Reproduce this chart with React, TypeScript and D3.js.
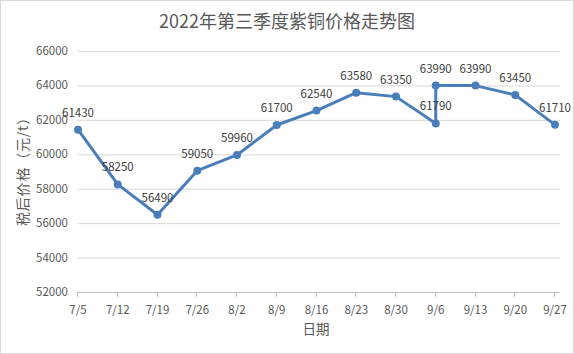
import React from 'react';
import * as d3 from 'd3';

const categories = ['7/5', '7/12', '7/19', '7/26', '8/2', '8/9', '8/16', '8/23', '8/30', '9/6', '9/13', '9/20', '9/27'];
// 9/6 has two readings, so the series repeats that date
const pointDates = ['7/5', '7/12', '7/19', '7/26', '8/2', '8/9', '8/16', '8/23', '8/30', '9/6', '9/6', '9/13', '9/20', '9/27'];
const prices = [61430, 58250, 56490, 59050, 59960, 61700, 62540, 63580, 63350, 61790, 63990, 63990, 63450, 61710];
const yTicks = [52000, 54000, 56000, 58000, 60000, 62000, 64000, 66000];

const W = 574;
const H = 354;
const FONT = '"Noto Sans CJK SC", "Noto Sans", sans-serif';
const TXT = '#595959';
const BLUE = '#4a7ebb';

export default function App() {
  const x = d3.scalePoint<string>().domain(categories).range([78, 555]);
  const y = d3.scaleLinear().domain([52000, 66000]).range([292, 51]);

  const pts = pointDates.map((d, i) => ({ d, v: prices[i] }));
  const line = d3.line<{ d: string; v: number }>()
    .x(p => x(p.d) as number)
    .y(p => y(p.v));

  return (
    <svg width={W} height={H} style={{ position: 'absolute', left: 0, top: 0, background: '#fff' }} fontFamily={FONT}>
      <rect x={0.5} y={0.5} width={W - 1} height={H - 1} fill="#fff" stroke="#d9d9d9" />
      <text x={287} y={28} textAnchor="middle" fontSize={18} fill={TXT}>2022年第三季度紫铜价格走势图</text>

      {yTicks.map(t => (
        <g key={t}>
          {t !== 52000 && <line x1={77} x2={560} y1={y(t) + 0.5} y2={y(t) + 0.5} stroke="#d9d9d9" />}
          <text x={68} y={y(t)} dy="0.35em" textAnchor="end" fontSize={11.5} fill={TXT}>{t}</text>
        </g>
      ))}

      {/* x axis */}
      <line x1={77} x2={560} y1={y(52000) + 0.5} y2={y(52000) + 0.5} stroke="#bfbfbf" />
      {categories.map(c => (
        <g key={c}>
          <line x1={Math.round(x(c) as number) - 0.5} x2={Math.round(x(c) as number) - 0.5} y1={292} y2={297} stroke="#bfbfbf" />
          <text x={x(c) as number} y={310} dy="0.35em" textAnchor="middle" fontSize={11.5} fill={TXT}>{c}</text>
        </g>
      ))}

      <text x={316} y={329} dy="0.35em" textAnchor="middle" fontSize={13.5} fill={TXT}>日期</text>
      <text transform="translate(23,168) rotate(-90)" textAnchor="middle" dy="0.35em" fontSize={14} letterSpacing={0.8} fill={TXT}>税后价格（元/t）</text>

      <path d={line(pts) ?? ''} fill="none" stroke={BLUE} strokeWidth={3} strokeLinejoin="round" strokeLinecap="round" />
      {pts.map((p, i) => (
        <circle key={i} cx={x(p.d) as number} cy={y(p.v)} r={4} fill={BLUE} />
      ))}
      {pts.map((p, i) => (
        <text key={'l' + i} x={x(p.d) as number} y={y(p.v) - 17} dy="0.35em" textAnchor="middle" fontSize={11.5} fill="#404040">{p.v}</text>
      ))}
    </svg>
  );
}
